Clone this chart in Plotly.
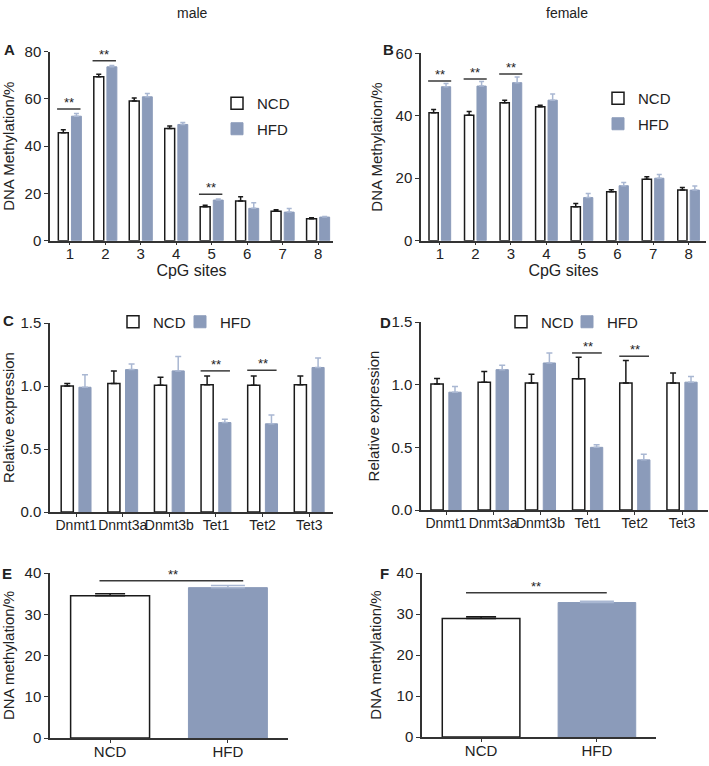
import plotly.graph_objects as go

# ---------------- data ----------------
cpg_sites = [1, 2, 3, 4, 5, 6, 7, 8]

male_ncd = [45.7, 69.4, 59.1, 47.5, 14.4, 16.8, 12.5, 9.3]
male_ncd_err = [1.3, 1.1, 1.3, 1.1, 0.6, 1.8, 0.6, 0.4]
male_hfd = [52.7, 73.6, 60.9, 49.2, 17.2, 13.7, 12.1, 10.0]
male_hfd_err = [1.1, 0.6, 1.4, 0.8, 0.4, 2.4, 1.5, 0.2]

female_ncd = [41.0, 40.2, 44.2, 42.9, 10.9, 15.7, 19.7, 16.2]
female_ncd_err = [1.0, 1.2, 0.8, 0.5, 1.0, 0.6, 0.8, 0.8]
female_hfd = [49.3, 49.5, 50.6, 45.0, 13.8, 17.6, 20.0, 16.2]
female_hfd_err = [1.0, 1.5, 1.8, 2.0, 1.3, 1.0, 1.2, 1.3]

genes = ["Dnmt1", "Dnmt3a", "Dnmt3b", "Tet1", "Tet2", "Tet3"]
male_expr_ncd = [1.00, 1.02, 1.005, 1.01, 1.005, 1.01]
male_expr_ncd_err = [0.02, 0.10, 0.065, 0.07, 0.075, 0.07]
male_expr_hfd = [0.99, 1.13, 1.12, 0.71, 0.70, 1.147]
male_expr_hfd_err = [0.10, 0.045, 0.115, 0.027, 0.07, 0.075]

female_expr_ncd = [1.005, 1.02, 1.013, 1.048, 1.013, 1.013]
female_expr_ncd_err = [0.045, 0.085, 0.07, 0.17, 0.18, 0.08]
female_expr_hfd = [0.94, 1.12, 1.173, 0.50, 0.40, 1.02]
female_expr_hfd_err = [0.045, 0.035, 0.08, 0.02, 0.045, 0.045]

diet_groups = ["NCD", "HFD"]
male_global = [34.5, 36.45]
male_global_err = [0.5, 0.5]
female_global = [28.9, 32.8]
female_global_err = [0.4, 0.3]

# significance marks: (category position, bar-line level)
sig_A = [(1, 55.7), (2, 76.2), (5, 19.7)]
sig_B = [(1, 51.1), (2, 51.8), (3, 53.4)]
sig_C = [(3, 1.12), (4, 1.125)]
sig_D = [(3, 1.253), (4, 1.227)]
sig_E = 38.1
sig_F = 35.2

# ---------------- styles ----------------
W, H = 709, 766
FONT = "Liberation Sans, Arial, sans-serif"
TXT = "#222222"
HFD_COLOR = "#8b9bba"
HFD_ERR = "#a9b7d2"
AX = "#333333"
TICK_SIZE = 15


def px_x(p):
    return p / W


def px_y(p):
    return 1 - p / H


fig = go.Figure()

panels = {
    # name: (x0px, x1px, ytop px, ybottom px)
    "A": (50, 333, 51.7, 240.7),
    "B": (421, 706, 53.3, 240.7),
    "C": (50, 333, 323, 512),
    "D": (421, 708, 322, 510),
    "E": (50, 288, 573, 738),
    "F": (422, 656, 573, 737),
}
axis_ids = {"A": "", "B": "2", "C": "3", "D": "4", "E": "5", "F": "6"}


def add_pair(pid, xs, ncd, ncd_err, hfd, hfd_err, width, off_n, off_h, legends=(None, None), cap=2.5):
    ax = axis_ids[pid]
    fig.add_trace(go.Bar(
        x=xs, y=ncd, name="NCD", width=width, offset=off_n,
        marker=dict(color="white", line=dict(color="#1a1a1a", width=1.5)),
        error_y=dict(type="data", array=ncd_err, arrayminus=[0] * len(ncd), symmetric=False,
                     color="#1a1a1a", thickness=1.5, width=cap),
        xaxis="x" + ax, yaxis="y" + ax, showlegend=legends[0] is not None, legend=legends[0],
        legendgroup=pid + "n",
    ))
    fig.add_trace(go.Bar(
        x=xs, y=hfd, name="HFD", width=width, offset=off_h,
        marker=dict(color=HFD_COLOR, line=dict(color=HFD_COLOR, width=1)),
        error_y=dict(type="data", array=hfd_err, arrayminus=[0] * len(hfd), symmetric=False,
                     color=HFD_ERR, thickness=1.5, width=cap),
        xaxis="x" + ax, yaxis="y" + ax, showlegend=legends[1] is not None, legend=legends[1],
        legendgroup=pid + "h",
    ))


# A / B: CpG site methylation
add_pair("A", cpg_sites, male_ncd, male_ncd_err, male_hfd, male_hfd_err, 0.28, -0.325, 0.045,
         ("legend", "legend"))
add_pair("B", cpg_sites, female_ncd, female_ncd_err, female_hfd, female_hfd_err, 0.26, -0.305, 0.045,
         ("legend2", "legend2"))

# C / D: gene expression
gx = list(range(len(genes)))
add_pair("C", gx, male_expr_ncd, male_expr_ncd_err, male_expr_hfd, male_expr_hfd_err, 0.26, -0.32, 0.06,
         ("legend3", "legend5"), cap=3)
add_pair("D", gx, female_expr_ncd, female_expr_ncd_err, female_expr_hfd, female_expr_hfd_err, 0.26, -0.32, 0.06,
         ("legend4", "legend6"), cap=3)

# E / F: global methylation
for pid, vals, errs in (("E", male_global, male_global_err), ("F", female_global, female_global_err)):
    ax = axis_ids[pid]
    fig.add_trace(go.Bar(
        x=[0], y=[vals[0]], name="NCD", width=0.67, offset=-0.335,
        marker=dict(color="white", line=dict(color="#1a1a1a", width=1.5)),
        error_y=dict(type="data", array=[errs[0]], arrayminus=[0], symmetric=False,
                     color="#1a1a1a", thickness=1.5, width=15),
        xaxis="x" + ax, yaxis="y" + ax, showlegend=False,
    ))
    fig.add_trace(go.Bar(
        x=[1], y=[vals[1]], name="HFD", width=0.67, offset=-0.335,
        marker=dict(color=HFD_COLOR, line=dict(color=HFD_COLOR, width=1)),
        error_y=dict(type="data", array=[errs[1]], arrayminus=[0], symmetric=False,
                     color=HFD_ERR, thickness=1.5, width=17),
        xaxis="x" + ax, yaxis="y" + ax, showlegend=False,
    ))

# ---------------- axes ----------------
tickfont = dict(family=FONT, size=TICK_SIZE, color=TXT)
layout_axes = {}
x_ranges = {"A": [0.44, 8.42], "B": [0.47, 8.49], "C": [-0.56, 5.51], "D": [-0.53, 5.55],
            "E": [-0.51, 1.51], "F": [-0.51, 1.51]}
y_cfg = {
    "A": dict(range=[0, 80], dtick=20, tickformat="d", title="DNA Methylation/%", standoff=12),
    "B": dict(range=[0, 60], dtick=20, tickformat="d", title="DNA Methylation/%", standoff=9),
    "C": dict(range=[0, 1.5], dtick=0.5, tickformat=".1f", title="Relative expression", standoff=6),
    "D": dict(range=[0, 1.5], dtick=0.5, tickformat=".1f", title="Relative expression", standoff=8),
    "E": dict(range=[0, 40], dtick=10, tickformat="d", title="DNA methylation/%", standoff=12),
    "F": dict(range=[0, 40], dtick=10, tickformat="d", title="DNA methylation/%", standoff=11),
}
for pid, (x0, x1, yt, yb) in panels.items():
    ax = axis_ids[pid]
    xfont = tickfont
    if pid in ("A", "B"):
        tv, tt = cpg_sites, [str(c) for c in cpg_sites]
        xtitle = dict(text="CpG sites", font=dict(family=FONT, size=16, color=TXT), standoff=2)
    elif pid in ("C", "D"):
        tv, tt = gx, genes
        xtitle = None
        xfont = dict(family=FONT, size=14, color=TXT)
    else:
        tv, tt = [0, 1], diet_groups
        xtitle = None
    xa = dict(domain=[px_x(x0), px_x(x1)], range=x_ranges[pid], tickvals=tv, ticktext=tt,
              showline=True, linecolor=AX, linewidth=1.5, ticks="outside", ticklen=3,
              tickcolor=AX, tickwidth=1.2, showgrid=False, zeroline=False, tickfont=xfont,
              tickangle=0, ticklabelstandoff=-4, automargin=False,
              anchor="y" + ax, fixedrange=True)
    if xtitle:
        xa["title"] = xtitle
    yc = y_cfg[pid]
    ya = dict(domain=[px_y(yb), px_y(yt)], range=yc["range"], dtick=yc["dtick"], tick0=0,
              tickformat=yc["tickformat"], showline=True, linecolor=AX, linewidth=1.5,
              ticks="outside", ticklen=4, tickcolor=AX, tickwidth=1.2, showgrid=False,
              zeroline=False, tickfont=tickfont, anchor="x" + ax, fixedrange=True, automargin=False,
              title=dict(text=yc["title"], font=dict(family=FONT, size=15, color=TXT),
                         standoff=yc["standoff"]))
    layout_axes["xaxis" + ax] = xa
    layout_axes["yaxis" + ax] = ya

fig.update_layout(**layout_axes)

# ---------------- significance marks ----------------
shapes = []
annotations = []


def sig(ax, xl, xr, yv, xc):
    shapes.append(dict(type="line", xref="x" + ax, yref="y" + ax, x0=xl, x1=xr, y0=yv, y1=yv,
                       line=dict(color="#3a3a3a", width=1.5)))
    annotations.append(dict(xref="x" + ax, yref="y" + ax, x=xc, y=yv, text="**", showarrow=False,
                            yanchor="bottom", yshift=-3, font=dict(family=FONT, size=13, color=TXT)))


for c, yv in sig_A:
    sig("", c - 0.36, c + 0.3, yv, c - 0.03)
for c, yv in sig_B:
    sig("2", c - 0.33, c + 0.32, yv, c)
for c, yv in sig_C:
    sig("3", c - 0.33, c + 0.3, yv, c)
for c, yv in sig_D:
    sig("4", c - 0.33, c + 0.3, yv, c)
sig("5", -0.09, 1.13, sig_E, 0.53)
sig("6", -0.13, 1.085, sig_F, 0.47)


# ---------------- titles and panel letters ----------------
def label(text, xp, yp, size=15, bold=False):
    annotations.append(dict(xref="paper", yref="paper", x=px_x(xp), y=px_y(yp),
                            text=("<b>%s</b>" % text) if bold else text,
                            showarrow=False, xanchor="center", yanchor="middle",
                            font=dict(family=FONT, size=size, color=TXT)))


label("male", 192, 13, size=14)
label("female", 567, 13, size=14)
for t, xp, yp in (("A", 9, 50), ("B", 388, 50), ("C", 8, 321), ("D", 385, 322), ("E", 7, 573), ("F", 384, 573)):
    label(t, xp, yp, size=15, bold=True)

legend_common = dict(font=dict(family=FONT, size=15, color=TXT), bgcolor="rgba(0,0,0,0)",
                     borderwidth=0, traceorder="grouped", tracegroupgap=3)

fig.update_layout(
    width=W, height=H,
    margin=dict(l=0, r=0, t=0, b=0, autoexpand=False),
    paper_bgcolor="white", plot_bgcolor="white",
    barmode="overlay",
    shapes=shapes, annotations=annotations,
    legend=dict(x=px_x(217), y=px_y(87), xanchor="left", yanchor="top", orientation="v", **legend_common),
    legend2=dict(x=px_x(598), y=px_y(82), xanchor="left", yanchor="top", orientation="v", **legend_common),
    legend3=dict(x=px_x(113), y=px_y(322), xanchor="left", yanchor="middle", orientation="h", **legend_common),
    legend5=dict(x=px_x(180), y=px_y(322), xanchor="left", yanchor="middle", orientation="h", **legend_common),
    legend4=dict(x=px_x(501), y=px_y(322), xanchor="left", yanchor="middle", orientation="h", **legend_common),
    legend6=dict(x=px_x(567), y=px_y(322), xanchor="left", yanchor="middle", orientation="h", **legend_common),
)

fig.write_html("out.html", config=dict(displayModeBar=False),
               post_script="document.body.style.margin='0px';document.body.style.overflow='hidden';")
